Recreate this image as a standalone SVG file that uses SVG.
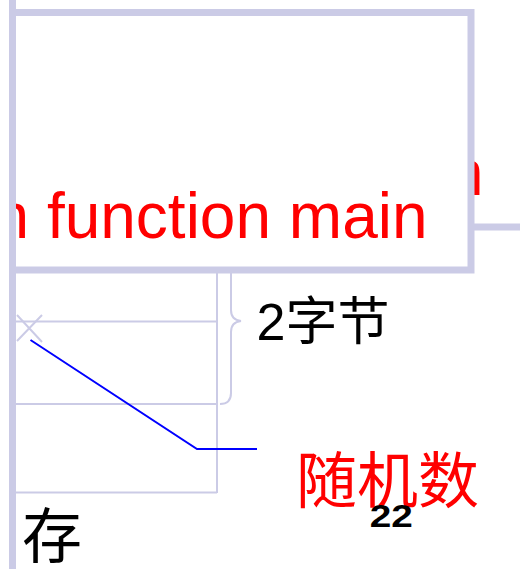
<svg xmlns="http://www.w3.org/2000/svg" width="520" height="569" viewBox="0 0 520 569">
<style>
.lav{stroke:#CBCBE6;fill:none}
.thin{stroke-width:2}
.thick{stroke-width:7}
.red{fill:#FF0000;font-family:"Liberation Sans",Arial,sans-serif;font-size:64px}
.cjk{font-family:"Noto Sans CJK SC","Noto Sans CJK JP",sans-serif}
</style>
<defs>
<clipPath id="inner"><rect x="16" y="16" width="451" height="251"/></clipPath>
</defs>
<rect width="520" height="569" fill="#FFFFFF"/>
<g id="back-line">
<line class="lav thick" x1="471" y1="227" x2="520" y2="227"/>
<text class="red" x="448" y="195">n</text>
</g>
<g id="frame">
<rect class="lav thick" x="12.5" y="12.5" width="458.5" height="257.5" fill="#FFFFFF" style="fill:#FFFFFF"/>
<text class="red" x="-6.5" y="238" clip-path="url(#inner)">n function main</text>
</g>
<g id="memory">
<line class="lav thin" x1="217" y1="270" x2="217" y2="493"/>
<line class="lav thin" x1="16" y1="321.5" x2="217" y2="321.5"/>
<line class="lav thin" x1="16" y1="404" x2="217" y2="404"/>
<line class="lav thin" x1="16" y1="492.5" x2="217" y2="492.5"/>
<path class="lav thin" d="M231,270 L231,310 Q231,320 241,321 Q231,322 231,332 L231,393 Q231,404 220,404"/>
<path class="lav thin" d="M17,315 L42,342 M42,315 L17,341"/>
</g>
<g id="bar">
<line class="lav thick" x1="12.5" y1="0" x2="12.5" y2="569"/>
</g>
<g id="connectors">
<polyline points="30.5,340 197,449 257,449" fill="none" stroke="#0000FF" stroke-width="2"/>
</g>
<g id="labels">
<text x="256.5" y="340" font-size="52" font-family="'Liberation Sans','Noto Sans CJK SC',sans-serif" fill="#000000">2<tspan class="cjk">字节</tspan></text>
<text class="cjk" x="296" y="503" font-size="61" fill="#FF0000">随机数</text>
<text transform="translate(371,527) scale(1.25,1)" x="-1" y="0" font-size="31" font-weight="bold" font-family="'Liberation Sans',Arial,sans-serif" fill="#000000">22</text>
<text class="cjk" x="22" y="558" font-size="60" fill="#000000">存</text>
</g>
</svg>
